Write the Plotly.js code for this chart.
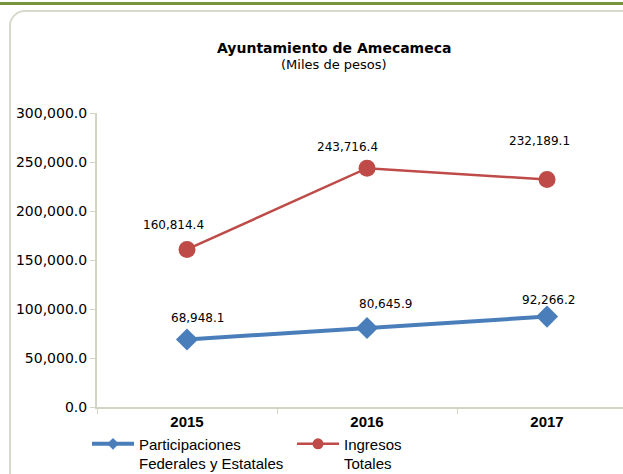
<!DOCTYPE html>
<html>
<head>
<meta charset="utf-8">
<script src="https://cdn.plot.ly/plotly-3.0.1.min.js"></script>
<style>
  html, body { margin: 0; padding: 0; background: #fff; overflow: hidden; }
  #wrap { position: relative; width: 623px; height: 474px; }
  #topline { position: absolute; left: 0; top: 2px; width: 623px; height: 3px; background: #77933c; }
  #frame { position: absolute; left: 9px; top: 10px; width: 640px; height: 500px;
           border: 2px solid #d8d8cc; border-radius: 16px; box-sizing: border-box; }
  #chart { position: absolute; left: 0; top: 0; }
</style>
</head>
<body>
<div id="wrap">
  <div id="topline"></div>
  <div id="frame"></div>
  <div id="chart"></div>
</div>
<script>
// Datos (miles de pesos)
const years = ['2015', '2016', '2017'];
const participaciones = [68948.1, 80645.9, 92266.2];
const ingresos = [160814.4, 243716.4, 232189.1];
const yTicks = [0, 50000, 100000, 150000, 200000, 250000, 300000];

// desplazamiento de etiquetas (px) como en el original
const blueLabelDx = [10, 18, 1], blueLabelDy = [21, 24, 17];
const redLabelDx = [-14, -20, -8], redLabelDy = [24, 21, 38];

const fmt = v => v.toLocaleString('en-US', {minimumFractionDigits: 1, maximumFractionDigits: 1});
const SANS = 'DejaVu Sans, Arial, sans-serif';
const ARIAL = 'Liberation Sans, Arial, sans-serif';
const BLUE = '#4a7ebb', RED = '#be4b48';
const blueName = 'Participaciones<br>Federales y Estatales';
const redName = 'Ingresos<br>Totales';

const blueTrace = {
    x: years, y: participaciones,
    type: 'scatter', mode: 'lines+markers',
    name: blueName, showlegend: false,
    line: { color: BLUE, width: 4 },
    marker: { symbol: 'diamond', size: 17, color: BLUE }
};

const redTrace = {
    x: years, y: ingresos,
    type: 'scatter', mode: 'lines+markers',
    name: redName, showlegend: false,
    line: { color: RED, width: 2.5 },
    marker: { symbol: 'circle', size: 17, color: RED }
};

// entradas de leyenda con marcador pequeño
const blueLegend = {
    x: [null], y: [null], type: 'scatter', mode: 'lines+markers', name: blueName,
    line: { color: BLUE, width: 4 }, marker: { symbol: 'diamond', size: 9, color: BLUE }
};
const redLegend = {
    x: [null], y: [null], type: 'scatter', mode: 'lines+markers', name: redName,
    line: { color: RED, width: 2.5 }, marker: { symbol: 'circle', size: 11, color: RED }
};

// Etiquetas de datos
const annotations = [];
years.forEach((yr, i) => {
    annotations.push({
        x: i, y: participaciones[i], text: fmt(participaciones[i]),
        showarrow: false, yshift: blueLabelDy[i], xshift: blueLabelDx[i],
        font: { size: 12, color: '#000', family: SANS }
    });
    annotations.push({
        x: i, y: ingresos[i], text: fmt(ingresos[i]),
        showarrow: false, yshift: redLabelDy[i], xshift: redLabelDx[i],
        font: { size: 12, color: '#000', family: SANS }
    });
});

// Título
annotations.push({
    xref: 'paper', yref: 'paper', x: (334 - 97) / 526, y: 1, yshift: 75,
    text: '<b>Ayuntamiento de Amecameca</b>', showarrow: false,
    font: { size: 14, color: '#000', family: SANS }
});
annotations.push({
    xref: 'paper', yref: 'paper', x: (334 - 97) / 526, y: 1, yshift: 58,
    text: '(Miles de pesos)', showarrow: false,
    font: { size: 13, color: '#000', family: SANS }
});

const layout = {
    width: 623,
    height: 474,
    paper_bgcolor: 'rgba(0,0,0,0)',
    plot_bgcolor: 'rgba(0,0,0,0)',
    margin: { l: 97, r: 0, t: 113, b: 67, autoexpand: false },
    font: { family: SANS, color: '#000' },
    showlegend: true,
    legend: {
        orientation: 'h',
        x: -0.019, xanchor: 'left',
        y: -0.07, yanchor: 'top',
        valign: 'top',
        itemwidth: 42,
        font: { size: 15, color: '#000', family: ARIAL },
        entrywidth: 148, entrywidthmode: 'pixels',
        tracegroupgap: 0
    },
    xaxis: {
        type: 'category',
        range: [-0.5, 2.422],
        showline: true, linecolor: '#d4d4c4', linewidth: 2,
        ticks: 'outside', tickson: 'boundaries', ticklen: 5, tickcolor: '#d4d4c4',
        showgrid: false, zeroline: false,
        tickfont: { size: 15, color: '#000', family: ARIAL, weight: 'bold' }
    },
    yaxis: {
        range: [0, 300000],
        tickvals: yTicks,
        ticktext: yTicks.map(fmt),
        showline: true, linecolor: '#d4d4c4', linewidth: 2,
        ticks: 'outside', ticklen: 5, tickcolor: '#d4d4c4',
        showgrid: false, zeroline: false,
        tickfont: { size: 14, color: '#000', family: SANS }
    },
    annotations: annotations
};

Plotly.newPlot('chart', [blueTrace, redTrace, blueLegend, redLegend], layout,
    { displayModeBar: false, staticPlot: true });
</script>
</body>
</html>
